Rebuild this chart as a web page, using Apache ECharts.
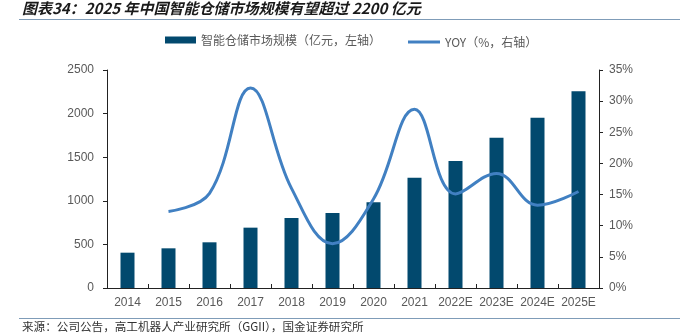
<!DOCTYPE html>
<html><head><meta charset="utf-8">
<script src="https://cdn.jsdelivr.net/npm/echarts@6/dist/echarts.min.js"></script>
<style>html,body{margin:0;padding:0;background:#fff}#c{width:693px;height:335px}</style>
</head><body><div id="c"></div>
<script>
const categories = ['2014','2015','2016','2017','2018','2019','2020','2021','2022E','2023E','2024E','2025E'];
const marketSize = [405, 455, 524, 692, 803, 860, 983, 1265, 1456, 1724, 1953, 2256];
const yoy = [null, 12.3, 15.2, 32.1, 16.0, 7.1, 14.3, 28.7, 15.1, 18.4, 13.3, 15.5];
const leftTicks = {min: 0, max: 2500, interval: 500};
const rightTicks = {min: 0, max: 35, interval: 5};
const titleText = '图表34：2025 年中国智能仓储市场规模有望超过 2200 亿元';
const sourceText = '来源：公司公告，高工机器人产业研究所（GGII），国金证券研究所';
const barName = '智能仓储市场规模（亿元，左轴）';
const lineName = 'YOY（%，右轴）';

const font = 'Arial, "Liberation Sans", "Noto Sans CJK SC", sans-serif';
const chart = echarts.init(document.getElementById('c'), null, {renderer: 'canvas'});
chart.setOption({
  animation: false,
  textStyle: {fontFamily: font},
  title: {
    text: titleText, left: 22, top: 1, padding: [0, 0, 0, 0],
    textStyle: {fontSize: 15, fontWeight: 'bold', fontStyle: 'italic', color: '#1a1a1a', fontFamily: '"Noto Sans CJK SC", sans-serif'}
  },
  graphic: [
    {type: 'line', shape: {x1: 19, y1: 19.5, x2: 680, y2: 19.5}, style: {stroke: '#7f9cb8', lineWidth: 1.2}},
    {type: 'line', shape: {x1: 19, y1: 318.5, x2: 680, y2: 318.5}, style: {stroke: '#7f9cb8', lineWidth: 1.2}},
    {type: 'text', left: 22, top: 321, style: {text: sourceText, font: '11.6px "Noto Sans CJK SC", sans-serif', fill: '#333'}}
  ],
  legend: [
    {data: [{name: barName, icon: 'rect'}], left: 165, top: 34, padding: 0, itemWidth: 31, itemHeight: 7, itemGap: 5,
     textStyle: {fontSize: 12, color: '#595959', fontFamily: '"Noto Sans CJK SC", sans-serif'}},
    {data: [{name: lineName, icon: 'rect'}], left: 408, top: 36, padding: 0, itemWidth: 32, itemHeight: 3,
     textStyle: {fontSize: 12, color: '#595959', fontFamily: '"Noto Sans CJK SC", sans-serif'}}
  ],
  grid: {left: 107, right: 94, top: 70, bottom: 47, containLabel: false},
  xAxis: {
    type: 'category', data: categories, boundaryGap: true,
    axisLine: {lineStyle: {color: '#222', width: 1}},
    axisTick: {show: true, inside: true, length: 4, alignWithLabel: false, lineStyle: {color: '#222'}},
    axisLabel: {fontSize: 12, color: '#595959', margin: 9, interval: 0}
  },
  yAxis: [
    {type: 'value', min: leftTicks.min, max: leftTicks.max, interval: leftTicks.interval,
     axisLine: {show: true, lineStyle: {color: '#222'}},
     axisTick: {show: true, length: 4, lineStyle: {color: '#222'}},
     splitLine: {show: false},
     axisLabel: {fontSize: 12, color: '#595959', margin: 13, formatter: v => String(v)}},
    {type: 'value', min: rightTicks.min, max: rightTicks.max, interval: rightTicks.interval, position: 'right',
     axisLine: {show: true, lineStyle: {color: '#222'}},
     axisTick: {show: true, length: 4, lineStyle: {color: '#222'}},
     splitLine: {show: false},
     axisLabel: {fontSize: 12, color: '#595959', margin: 10, formatter: '{value}%'}}
  ],
  series: [
    {name: barName, type: 'bar', data: marketSize, yAxisIndex: 0, barWidth: 14,
     itemStyle: {color: '#02496e'}},
    {name: lineName, type: 'line', data: yoy, yAxisIndex: 1, smooth: 0.4, symbol: 'none',
     connectNulls: false, lineStyle: {color: '#4180c2', width: 3}, itemStyle: {color: '#4180c2'}}
  ]
});
</script></body></html>
